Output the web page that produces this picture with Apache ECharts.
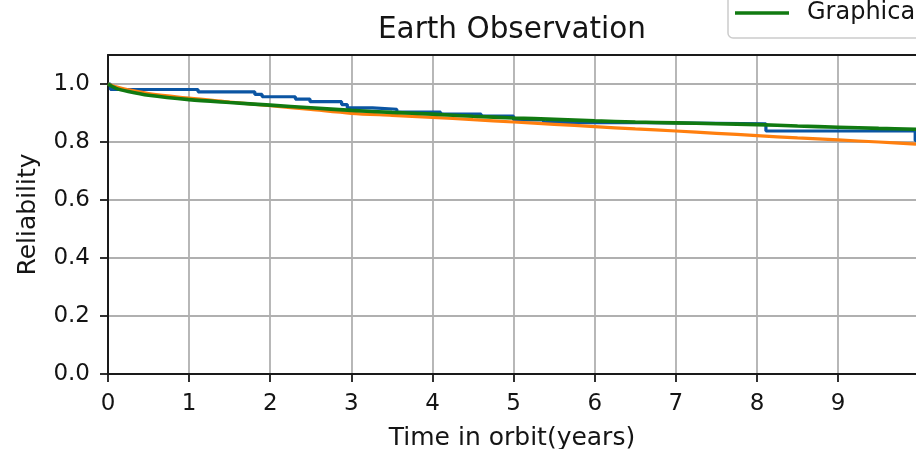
<!DOCTYPE html>
<html>
<head>
<meta charset="utf-8">
<script src="https://cdn.jsdelivr.net/npm/echarts@6/dist/echarts.min.js"></script>
<style>
html,body{margin:0;padding:0;background:#fff;}
#chart{width:916px;height:449px;}
</style>
</head>
<body>
<div id="chart"></div>
<script>
// ---- data ----
const titleText = "Earth Observation";
const xName = "Time in orbit(years)";
const yName = "Reliability";
const xTicks = [0, 1, 2, 3, 4, 5, 6, 7, 8, 9];
const yTicks = [0, 0.2, 0.4, 0.6, 0.8, 1.0];

// Kaplan-Meier style step curve (blue)
const kmX = [0, 0.03, 1.11, 1.81, 1.90, 2.31, 2.49, 2.88, 2.95, 3.26, 3.56, 4.10, 4.60, 5.00, 5.37, 6.60, 8.11, 9.95, 9.96];
const kmY = [1.0, 0.981, 0.973, 0.964, 0.956, 0.948, 0.939, 0.929, 0.918, 0.913, 0.903, 0.896, 0.889, 0.876, 0.867, 0.863, 0.838, 0.805, 0.805];

// fitted curve (orange)
const fitX = [0, 0.1, 0.25, 0.5, 1, 1.5, 2, 2.5, 3, 3.5, 4, 4.5, 5, 5.5, 6, 6.5, 7, 7.5, 8, 8.5, 9, 9.5, 9.96];
const fitY = [1.0, 0.99, 0.98, 0.967, 0.951, 0.938, 0.925, 0.912, 0.899, 0.892, 0.885, 0.877, 0.869, 0.861, 0.853, 0.845, 0.838, 0.83, 0.822, 0.814, 0.807, 0.8, 0.793];

// graphical curve (green)
const grX = [0, 0.1, 0.25, 0.5, 1, 1.5, 2, 2.5, 3, 3.5, 4, 4.5, 5, 5.5, 6, 6.5, 7, 7.5, 8, 8.5, 9, 9.5, 9.96];
const grY = [1.0, 0.985, 0.974, 0.961, 0.946, 0.936, 0.927, 0.918, 0.909, 0.902, 0.896, 0.889, 0.883, 0.878, 0.873, 0.869, 0.866, 0.863, 0.86, 0.855, 0.851, 0.847, 0.844];

const seriesNames = ["Kaplan-Meier", "Weibull", "Graphical method"];

function zip(xs, ys) { return xs.map((x, i) => [x, ys[i]]); }

const FONT = "DejaVu Sans";
const TXT = '#141414';
const chart = echarts.init(document.getElementById('chart'), null, {renderer: 'canvas'});
chart.setOption({
  animation: false,
  backgroundColor: '#ffffff',
  title: {
    text: titleText, left: 512, textAlign: 'center', top: 15, padding: 0,
    textStyle: {fontFamily: FONT, fontSize: 29.5, fontWeight: 'normal', color: TXT}
  },
  legend: {
    data: [{name: seriesNames[2], icon: 'rect'}],
    orient: 'vertical',
    left: 728, top: -39,
    padding: [40, 200, 13, 7],
    itemWidth: 54, itemHeight: 3.5,
    borderColor: '#cccccc', borderWidth: 1.5, borderRadius: 5,
    backgroundColor: '#ffffff',
    textStyle: {fontFamily: FONT, fontSize: 24, color: TXT, padding: [0, 0, 0, 13]}
  },
  grid: {left: 108, right: 0, top: 55, bottom: 75, containLabel: false, outerBoundsMode: 'none'},
  xAxis: [{
    type: 'value', min: 0, max: 9.96, interval: 1,
    name: xName, nameLocation: 'middle', nameGap: 52,
    nameTextStyle: {fontFamily: FONT, fontSize: 25, color: TXT},
    axisLine: {show: true, onZero: false, lineStyle: {color: '#1a1a1a', width: 2}},
    axisTick: {show: true, length: 8, lineStyle: {color: '#1a1a1a', width: 1.8}, customValues: xTicks},
    axisLabel: {fontFamily: FONT, fontSize: 23, color: TXT, margin: 19, customValues: xTicks,
      formatter: v => String(Math.round(v))},
    splitLine: {show: true, lineStyle: {color: '#b0b0b0', width: 1.8}}
  }, {
    type: 'value', position: 'top', min: 0, max: 9.96, interval: 1,
    axisLine: {show: true, onZero: false, lineStyle: {color: '#1a1a1a', width: 2}},
    axisTick: {show: false}, axisLabel: {show: false}, splitLine: {show: false}
  }],
  yAxis: {
    type: 'value', min: 0, max: 1.1, interval: 0.2,
    name: yName, nameLocation: 'middle', nameGap: 67,
    nameTextStyle: {fontFamily: FONT, fontSize: 25, color: TXT},
    axisLine: {show: true, onZero: false, lineStyle: {color: '#1a1a1a', width: 2}},
    axisTick: {show: true, length: 8, lineStyle: {color: '#1a1a1a', width: 1.8}, customValues: yTicks},
    axisLabel: {fontFamily: FONT, fontSize: 23, color: TXT, margin: 18, customValues: yTicks,
      formatter: v => v.toFixed(1)},
    splitLine: {show: true, lineStyle: {color: '#b0b0b0', width: 1.8}}
  },
  series: [
    {name: seriesNames[0], type: 'line', step: 'end', showSymbol: false, xAxisIndex: 0,
     data: zip(kmX, kmY), lineStyle: {color: '#0b55a3', width: 3.2}, itemStyle: {color: '#0b55a3'}, z: 2},
    {name: seriesNames[1], type: 'line', showSymbol: false, smooth: 0.3, xAxisIndex: 0,
     data: zip(fitX, fitY), lineStyle: {color: '#ff7f0e', width: 3.2}, itemStyle: {color: '#ff7f0e'}, z: 3},
    {name: seriesNames[2], type: 'line', showSymbol: false, smooth: 0.3, xAxisIndex: 0,
     data: zip(grX, grY), lineStyle: {color: '#117a11', width: 3.6}, itemStyle: {color: '#117a11'}, z: 4}
  ]
});
</script>
</body>
</html>
